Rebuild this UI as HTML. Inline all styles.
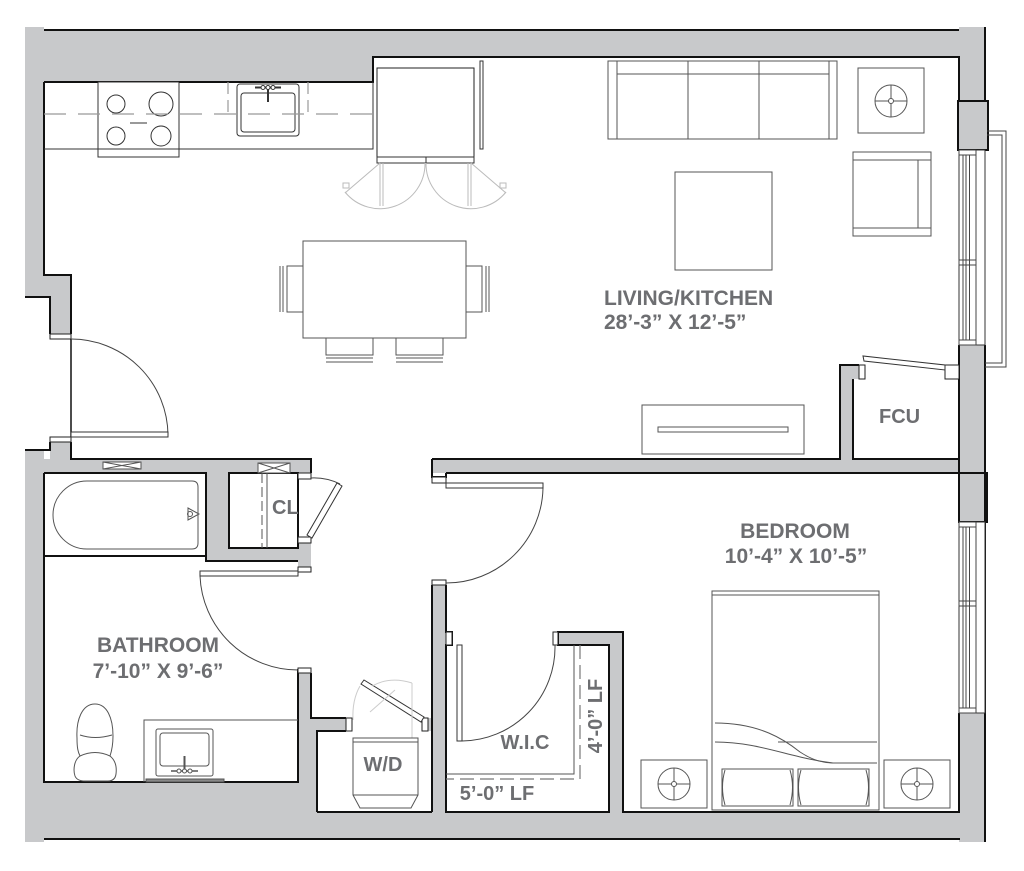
<!DOCTYPE html>
<html><head><meta charset="utf-8"><style>
html,body{margin:0;padding:0;background:#fff;}
svg{display:block;}
text{font-family:"Liberation Sans",Arial,sans-serif;font-weight:bold;fill:#6d6e71;}
</style></head><body>
<svg width="1024" height="871" viewBox="0 0 1024 871" xmlns="http://www.w3.org/2000/svg">
<rect width="1024" height="871" fill="#fff"/>
<!-- ============ GRAY WALLS ============ -->
<g fill="#c8c9cb">
<rect x="44" y="30" width="915" height="27"/>
<rect x="44" y="57" width="329" height="25"/>
<polygon points="25,27 44,27 44,275 71,275 71,334 50,334 50,297 25,297"/>
<rect x="959" y="27" width="26" height="74"/>
<rect x="958" y="101" width="30" height="49"/>
<rect x="959" y="345" width="26" height="128"/>
<rect x="959" y="473" width="28" height="49"/>
<rect x="959" y="713" width="26" height="129"/>
<!-- lower left -->
<rect x="50" y="442" width="21" height="31"/>
<rect x="25" y="450" width="19" height="392"/>
<rect x="44" y="459" width="267" height="14"/>
<rect x="206" y="473" width="23" height="88"/>
<rect x="206" y="548" width="92" height="13"/>
<rect x="298" y="543" width="13" height="24"/>
<rect x="298" y="673" width="13" height="45"/>
<rect x="298" y="718" width="19" height="94"/>
<rect x="311" y="718" width="35" height="13"/>
<rect x="428" y="718" width="4" height="13"/>
<rect x="44" y="782" width="273" height="57"/>
<rect x="44" y="812" width="916" height="27"/>
<!-- WIC walls -->
<rect x="432" y="585" width="14" height="227"/>
<rect x="558" y="632" width="65" height="13"/>
<rect x="609" y="645" width="14" height="167"/>
<!-- living/bed wall -->
<rect x="432" y="459" width="527" height="14"/>
<rect x="840" y="365" width="13" height="94"/>
<rect x="853" y="365" width="6" height="14"/>
</g>

<!-- ============ BLACK WALL LINES ============ -->
<g fill="none" stroke="#111" stroke-width="2">
<path d="M44,30 H959"/>
<path d="M985,27 V101"/>
<path d="M44,82 H373 V57 H959 V101"/>
<path d="M44,82 V275 H71 V334"/>
<path d="M25,297 H50 V334"/>
<path d="M25,450 H50 V442"/>
<path d="M71,442 V459 H311 V473"/>
<path d="M44,473 V782 H298 V669"/>
<path d="M44,473 H206 V561 H298"/>
<path d="M44,556 H206"/>
<rect x="229" y="473" width="69" height="75"/>
<path d="M311,673 V718 H346"/>
<path d="M317,812 V731 H346"/>
<path d="M317,812 H432"/>
<path d="M432,585 V812"/>
<path d="M446,585 V632 H452 V645 H446 V812 H609 V645 H558 V632 H623 V812 H960"/>
<path d="M44,839 H960"/>
<path d="M985,713 V842"/>
<path d="M959,713 V812"/>
<path d="M432,459 H840 V365 H859"/>
<path d="M853,379 V459 H959"/>
<path d="M446,473 H959"/>
<path d="M432,459 V477 H446 V473"/>
<path d="M959,345 V473"/>
<path d="M985,345 V713"/>
<rect x="958" y="101" width="30" height="49"/>
<rect x="959" y="473" width="28" height="49"/>
</g>

<!-- ============ JAMBS (white) ============ -->
<g fill="#fff" stroke="#222" stroke-width="1">
<rect x="50" y="334" width="21" height="5"/>
<rect x="50" y="437" width="21" height="5"/>
<rect x="432" y="477" width="14" height="6"/>
<rect x="432" y="580" width="14" height="5"/>
<rect x="298" y="473" width="13" height="6"/>
<rect x="298" y="537" width="13" height="6"/>
<rect x="298" y="567" width="13" height="5"/>
<rect x="298" y="668" width="13" height="5"/>
<rect x="346" y="718" width="6" height="13"/>
<rect x="422" y="718" width="6" height="13"/>
<rect x="446" y="632" width="6" height="13"/>
<rect x="553" y="632" width="5" height="13"/>
<rect x="859" y="365" width="6" height="14"/>
<rect x="945" y="365" width="14" height="14"/>
</g>

<!-- ============ DOORS ============ -->
<g fill="none" stroke="#444" stroke-width="1">
<line x1="71" y1="339" x2="71" y2="437" stroke="#111" stroke-width="1.5"/>
<path d="M71,339 A97,97 0 0 1 168,435"/>
<path d="M446,583 A97,97 0 0 0 543,488"/>
<path d="M200,576 A98,98 0 0 0 298,670"/>
<path d="M462,741 A94,94 0 0 0 555,645"/>
<path d="M311,478 A59,59 0 0 1 340,484"/>
</g>
<g fill="#fff" stroke="#333" stroke-width="1">
<rect x="71" y="432" width="97" height="5"/>
<rect x="446" y="483" width="97" height="5"/>
<rect x="200" y="571" width="98" height="5"/>
<rect x="457" y="645" width="5" height="96"/>
<polygon points="337,483 342,486 312,538 307,535"/>
<polygon points="361,684 364,680 424,717 421,722"/>
<polygon points="863,356 864,361 945,370 945,365"/>
</g>
<!-- W/D faint swing -->
<g fill="none" stroke="#ccc" stroke-width="1">
<path d="M360,686 Q352,700 353,720"/>
<path d="M412,683 V738"/>
<path d="M372,686 Q390,676 412,683"/>
<path d="M370,712 L395,690"/>
</g>

<!-- ============ WINDOWS ============ -->
<g fill="#fff" stroke="#333" stroke-width="1">
<rect x="959" y="150" width="26" height="195"/>
<rect x="959" y="522" width="26" height="191"/>
</g>
<g fill="none" stroke="#444" stroke-width="1">
<path d="M963,155 V340 M966,155 V340 M969.5,155 V340 M976,150 V345"/>
<rect x="959" y="150" width="17" height="5"/>
<rect x="959" y="260" width="17" height="5"/>
<rect x="959" y="340" width="17" height="5"/>
<path d="M963,527 V708 M966,527 V708 M969.5,527 V708 M976,522 V713"/>
<rect x="959" y="522" width="17" height="5"/>
<rect x="959" y="601" width="17" height="5"/>
<rect x="959" y="708" width="17" height="5"/>
<path d="M987,131 H1006 V367 H985"/>
<path d="M987,135 H1002 V363 H985"/>
</g>

<!-- ============ KITCHEN ============ -->
<g fill="none" stroke="#333" stroke-width="1">
<path d="M44,149 H373 V82"/>
<rect x="98" y="82" width="81" height="75" fill="#fff"/>
<line x1="98" y1="149" x2="179" y2="149"/>
<line x1="130" y1="123" x2="147" y2="123"/>
<circle cx="116" cy="104" r="9"/>
<circle cx="161" cy="104" r="12"/>
<circle cx="116" cy="136" r="9"/>
<circle cx="161" cy="136" r="10"/>
<rect x="237" y="84" width="62" height="52" rx="3"/>
<rect x="241" y="93" width="54" height="39" rx="3"/>
<line x1="255" y1="87.5" x2="281" y2="87.5" stroke-width="2"/>
<line x1="268" y1="88" x2="268" y2="102" stroke-width="2"/>
<circle cx="263" cy="87.5" r="2" fill="#fff"/>
<circle cx="268" cy="87.5" r="2" fill="#fff"/>
<circle cx="273" cy="87.5" r="2" fill="#fff"/>
<rect x="377" y="68" width="97" height="89" fill="#fff" stroke="#222"/>
<rect x="377" y="157" width="49" height="6"/>
<rect x="426" y="157" width="48" height="6"/>
<rect x="480" y="61" width="3" height="88"/>
</g>
<g fill="none" stroke="#999" stroke-width="1.2">
<line x1="44" y1="114" x2="380" y2="114" stroke-dasharray="22 12"/>
<line x1="228" y1="82" x2="228" y2="114" stroke-dasharray="12 6"/>
<line x1="308" y1="82" x2="308" y2="114" stroke-dasharray="12 6"/>
</g>
<g fill="none" stroke="#bbb" stroke-width="1">
<path d="M425,163 A45,45 0 0 1 345,192"/>
<path d="M426,163 A45,45 0 0 0 506,192"/>
<path d="M380,163 V206 M383,163 V206 M468,163 V206 M471,163 V206"/>
<path d="M380,163 L345,193 M471,163 L506,193"/>
<rect x="343" y="183" width="6" height="5"/>
<rect x="500" y="183" width="6" height="5"/>
</g>

<!-- ============ LIVING FURNITURE ============ -->
<g fill="none" stroke="#555" stroke-width="1">
<rect x="608" y="61" width="229" height="78"/>
<path d="M617,61 V139 M829,61 V139 M617,74 H829 M688,61 V139 M759,61 V139"/>
<rect x="858" y="68" width="66" height="65"/>
<circle cx="891" cy="101" r="16"/>
<circle cx="891" cy="101" r="2.5" fill="#fff"/>
<path d="M875,101 H888.5 M893.5,101 H907 M891,85 V98.5 M891,103.5 V117"/>
<rect x="853" y="152" width="78" height="84"/>
<path d="M853,160 H931 M853,228 H931 M918,160 V228"/>
<rect x="675" y="172" width="97" height="98"/>
<rect x="303" y="241" width="163" height="97"/>
<path d="M303,266 H287 V312 H303 M280,266 V312 M283,266 V312"/>
<path d="M466,266 H482 V312 H466 M489,266 V312 M486,266 V312"/>
<path d="M326,338 V355 H373 V338 M326,358 H373 M326,362 H373"/>
<path d="M396,338 V355 H443 V338 M396,358 H443 M396,362 H443"/>
<rect x="642" y="405" width="162" height="49"/>
<rect x="658" y="427" width="130" height="5"/>
</g>

<!-- ============ BATH ============ -->
<g fill="none" stroke="#555" stroke-width="1">
<path d="M87,481 H192 Q198,481 198,487 V543 Q198,549 192,549 H87 A34,34 0 0 1 87,481 Z"/>
<polygon points="188,508 199,514 188,520"/>
<circle cx="190" cy="514" r="2.5"/>
<rect x="103" y="462" width="38" height="7" fill="#fff"/>
<path d="M103,462 L141,469 M103,469 L141,462"/>
<rect x="258" y="463" width="32" height="10" fill="#fff"/>
<path d="M258,463 L290,473 M258,473 L290,463"/>
<line x1="262" y1="473" x2="262" y2="548" stroke-dasharray="10 4"/>
<line x1="267" y1="473" x2="267" y2="548"/>
<path d="M95,704 C82,704 76,720 77,738 C77,748 78,752 80,756 C74,760 73,770 75,776 Q77,781 85,781 H108 Q115,781 116,774 C117,766 115,760 110,756 C112,750 113,744 113,736 C113,718 107,704 95,704 Z"/>
<path d="M80,756 Q95,749 110,756"/>
<path d="M80,735 Q95,740 112,735"/>
<path d="M144,782 V720 H298"/>
<rect x="156" y="729" width="57" height="47" rx="2"/>
<rect x="160" y="733" width="49" height="33" rx="3"/>
<line x1="184.5" y1="756" x2="184.5" y2="769" stroke-width="2"/>
<line x1="171" y1="771" x2="198" y2="771" stroke-width="1.5"/>
<circle cx="179" cy="771" r="2" fill="#fff"/>
<circle cx="184.5" cy="771" r="2" fill="#fff"/>
<circle cx="190" cy="771" r="2" fill="#fff"/>
<rect x="146" y="779" width="78" height="3" fill="#888"/>
</g>

<!-- ============ W/D, WIC ============ -->
<g fill="none" stroke="#555" stroke-width="1">
<rect x="353" y="738" width="65" height="4"/>
<path d="M353,742 V795 L360,808 H411 L418,795 V742"/>
<path d="M353,795 H418"/>
<path d="M574,645 V774 H446"/>
</g>
<g fill="none" stroke="#777" stroke-width="1.2" stroke-dasharray="14 6">
<path d="M580,645 V779 H446"/>
</g>

<!-- ============ BEDROOM ============ -->
<g fill="none" stroke="#555" stroke-width="1">
<rect x="712" y="591" width="167" height="219"/>
<line x1="712" y1="595" x2="879" y2="595"/>
<path d="M715,723 C760,723 785,740 800,752 C812,760 822,763 833,763 H877"/>
<path d="M715,742 C760,742 790,758 833,763"/>
<path d="M778,742 H877"/>
<rect x="722" y="769" width="71" height="37"/>
<rect x="798" y="769" width="71" height="37"/>
<path d="M725,770 Q720,787 725,805 M790,770 Q795,787 790,805 M801,770 Q796,787 801,805 M866,770 Q871,787 866,805"/>
<rect x="641" y="760" width="66" height="48"/>
<circle cx="674" cy="784" r="16"/>
<circle cx="674" cy="784" r="2.5" fill="#fff"/>
<path d="M658,784 H671.5 M676.5,784 H690 M674,768 V781.5 M674,786.5 V800"/>
<rect x="884" y="760" width="66" height="48"/>
<circle cx="917" cy="784" r="16"/>
<circle cx="917" cy="784" r="2.5" fill="#fff"/>
<path d="M901,784 H914.5 M919.5,784 H933 M917,768 V781.5 M917,786.5 V800"/>
</g>

<!-- ============ LABELS ============ -->
<text x="604" y="305" font-size="21">LIVING/KITCHEN</text>
<text x="604" y="329" font-size="21">28’-3” X 12’-5”</text>
<text x="879" y="423" font-size="20">FCU</text>
<text x="795" y="538" font-size="21" text-anchor="middle">BEDROOM</text>
<text x="796" y="563" font-size="21" text-anchor="middle">10’-4” X 10’-5”</text>
<text x="158" y="652" font-size="21" text-anchor="middle">BATHROOM</text>
<text x="158" y="678" font-size="21" text-anchor="middle">7’-10” X 9’-6”</text>
<text x="272" y="514" font-size="20">CL</text>
<text x="383" y="771" font-size="20" text-anchor="middle">W/D</text>
<text x="525" y="749" font-size="20" text-anchor="middle">W.I.C</text>
<text x="497" y="800" font-size="20" text-anchor="middle">5’-0” LF</text>
<text x="0" y="0" font-size="20" text-anchor="middle" transform="translate(602,716) rotate(-90)">4’-0” LF</text>
</svg>
</body></html>
